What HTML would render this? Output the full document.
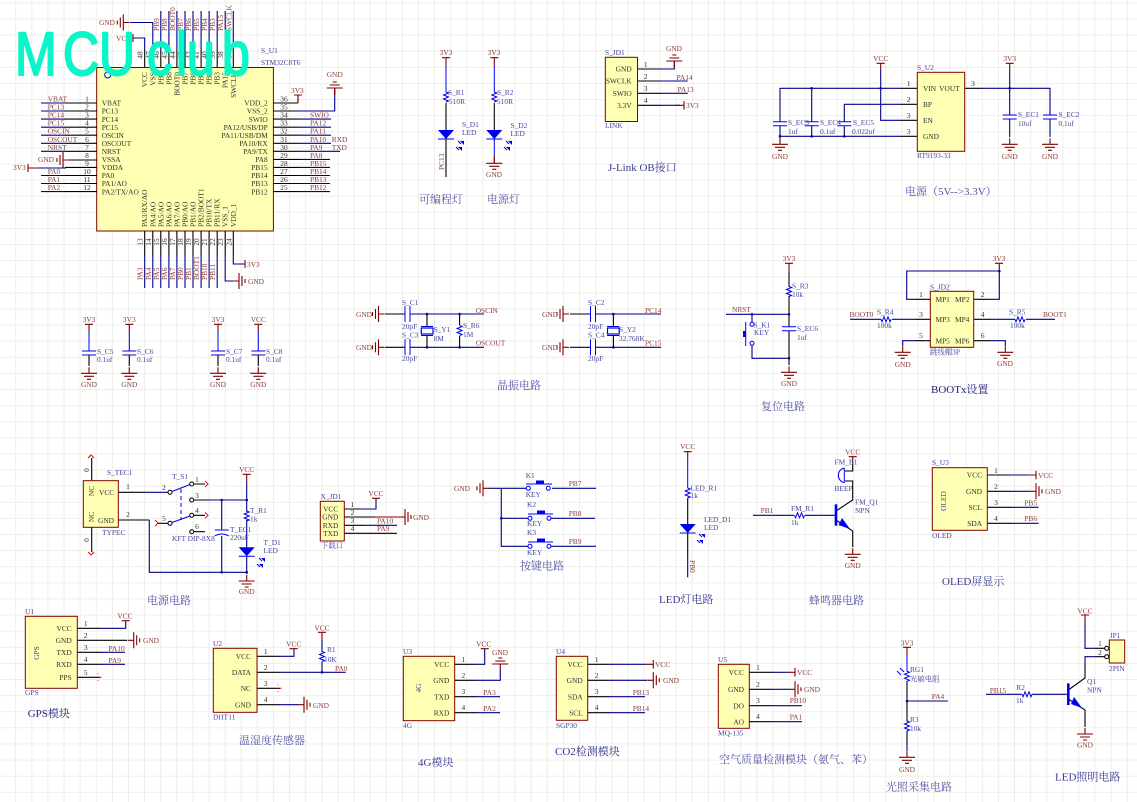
<!DOCTYPE html>
<html><head><meta charset="utf-8"><style>
html,body{margin:0;padding:0;background:#fff}
svg{display:block;filter:blur(.3px)}
text{font-family:"Liberation Serif","Noto Serif CJK SC",serif;font-size:7.4px}
.n{fill:#8c3c3c}.d{fill:#4646a0}.t{fill:#303030}
.h{font-size:11px;fill:#5656a8}.h2{font-size:11px;fill:#24247e}
.m{text-anchor:middle}.e{text-anchor:end}
.w{stroke:#00008b;stroke-width:1.1;fill:none}
.p{stroke:#000;stroke-width:1.1;fill:none}
.r{stroke:#800000;stroke-width:1.1;fill:none}
.b{stroke:#0000f0;stroke-width:1;fill:none}
.c{fill:#ffffb4;stroke:#800000;stroke-width:1}
.x{stroke:#f00;stroke-width:1;fill:none}
</style></head><body>
<svg width="1137" height="802" viewBox="0 0 1137 802" xmlns="http://www.w3.org/2000/svg">
<defs>
<pattern id="gr" x="15.2" y="18.5" width="16.11" height="16.11" patternUnits="userSpaceOnUse"><rect width="16.11" height="1" fill="#eeeee8"/><rect width="1" height="16.11" fill="#eeeee8"/></pattern>
<g id="g"><path class="r" d="M0-6V0M-8 0H8M-5 3H5M-2 6H2"/></g>
<g id="gl"><path class="r" d="M6 0H0M0-8V8M-3-5V5M-6-2V2"/></g>
<g id="gr2"><path class="r" d="M-6 0H0M0-8V8M3-5V5M6-2V2"/></g>
<g id="gu"><path class="r" d="M0 6V0M-8 0H8M-5-3H5M-2-6H2"/></g>
<g id="rv"><path class="b" d="M0 0l2.500 1-5 2 5 2-5 2 5 2-2.500 1" stroke-width="1.200"/></g>
<g id="rh"><path class="b" d="M0 0l1 2.500 2-5 2 5 2-5 2 5 1-2.500" stroke-width="1.200"/></g>
<g id="cap"><path class="b" d="M-7 0H7M-7 4H7" stroke-width="1.400"/></g>
<g id="led"><path fill="#0000f0" d="M-8 0H8L0 9Z"/><path class="b" d="M-8 9H8" stroke-width="1.400"/></g>
<g id="arr"><path fill="#0000f0" d="M2 0l4 0 0 4zM0 6l4 0 0 4z"/><path class="b" d="M0 0l3 3M-2 6l3 3"/></g>
<g id="dot"><circle r="1.300" fill="#00008b"/></g>
</defs>
<rect width="1137" height="802" fill="#fff"/>
<rect width="1137" height="802" fill="url(#gr)"/>

<!-- MCU -->
<rect class="c" x="96.700" y="67.500" width="176.700" height="163.500"/>
<circle cx="107.700" cy="75" r="3" fill="none" stroke="#0000f0"/>
<path class="p" d="M65 103H97M65 111H97M65 119.100H97M65 127.200H97M65 135.200H97M65 143.300H97M65 151.300H97M65 160H97M65 167.400H97M65 175.500H97M65 183.500H97M65 191.600H97"/>
<path class="w" d="M41 103H65M41 111H65M41 119.100H65M41 127.200H65M41 135.200H65M41 143.300H65M41 151.300H65M41 175.500H65M41 183.500H65M41 191.600H65"/>
<path class="p" d="M273 103H298M273 111H298M273 119.100H298M273 127.200H298M273 135.200H298M273 143.300H298M273 151.300H298M273 159.400H298M273 167.400H298M273 175.500H298M273 183.500H298M273 191.600H298"/>
<path class="w" d="M298 119.100H331M298 127.200H331M298 135.200H331M298 143.300H331M298 151.300H340M298 159.400H330M298 167.400H330M298 175.500H330M298 183.500H330M298 191.600H330M298 111H334.700V88M298 103V95"/>
<path class="r" d="M294 95H302M298 95V103M28 164V172M28 168H38M334.700 88V95"/>
<use href="#gu" x="334.700" y="88"/>
<use href="#gl" x="63" y="160"/>
<path class="w" d="M66 168H38"/>
<g class="t">
<text x="101.700" y="105.700" class="t">VBAT</text><text x="101.700" y="113.700" class="t">PC13</text><text x="101.700" y="121.800" class="t">PC14</text><text x="101.700" y="129.900" class="t">PC15</text><text x="101.700" y="137.900" class="t">OSCIN</text><text x="101.700" y="146" class="t">OSCOUT</text><text x="101.700" y="154" class="t">NRST</text><text x="101.700" y="162.100" class="t">VSSA</text><text x="101.700" y="170.100" class="t">VDDA</text><text x="101.700" y="178.200" class="t">PA0</text><text x="101.700" y="186.200" class="t">PA1/AO</text><text x="101.700" y="194.300" class="t">PA2/TX/AO</text>
<text x="267.700" y="105.700" class="t e">VDD_2</text><text x="267.700" y="113.700" class="t e">VSS_2</text><text x="267.700" y="121.800" class="t e">SWIO</text><text x="267.700" y="129.900" class="t e">PA12/USB/DP</text><text x="267.700" y="137.900" class="t e">PA11/USB/DM</text><text x="267.700" y="146" class="t e">PA10/RX</text><text x="267.700" y="154" class="t e">PA9/TX</text><text x="267.700" y="162.100" class="t e">PA8</text><text x="267.700" y="170.100" class="t e">PB15</text><text x="267.700" y="178.200" class="t e">PB14</text><text x="267.700" y="186.200" class="t e">PB13</text><text x="267.700" y="194.300" class="t e">PB12</text>
<text x="87" y="101.500" class="t m">1</text><text x="87" y="109.500" class="t m">2</text><text x="87" y="117.600" class="t m">3</text><text x="87" y="125.700" class="t m">4</text><text x="87" y="133.700" class="t m">5</text><text x="87" y="141.800" class="t m">6</text><text x="87" y="149.800" class="t m">7</text><text x="87" y="157.900" class="t m">8</text><text x="87" y="165.900" class="t m">9</text><text x="87" y="174" class="t m">10</text><text x="87" y="182" class="t m">11</text><text x="87" y="190.100" class="t m">12</text>
<text x="284" y="101.500" class="t m">36</text><text x="284" y="109.500" class="t m">35</text><text x="284" y="117.600" class="t m">34</text><text x="284" y="125.700" class="t m">33</text><text x="284" y="133.700" class="t m">32</text><text x="284" y="141.800" class="t m">31</text><text x="284" y="149.800" class="t m">30</text><text x="284" y="157.900" class="t m">29</text><text x="284" y="165.900" class="t m">28</text><text x="284" y="174" class="t m">27</text><text x="284" y="182" class="t m">26</text><text x="284" y="190.100" class="t m">25</text>
</g>
<g>
<text x="47.700" y="101.500" class="n">VBAT</text><text x="47.700" y="109.500" class="n">PC13</text><text x="47.700" y="117.600" class="n">PC14</text><text x="47.700" y="125.700" class="n">PC15</text><text x="47.700" y="133.700" class="n">OSCIN</text><text x="47.700" y="141.800" class="n">OSCOUT</text><text x="47.700" y="149.800" class="n">NRST</text><text x="47.700" y="174" class="n">PA0</text><text x="47.700" y="182" class="n">PA1</text><text x="47.700" y="190.100" class="n">PA2</text>
<text x="38" y="162" class="n">GND</text><text x="13" y="170" class="n">3V3</text>
<text x="310" y="117.600" class="n">SWIO</text><text x="310" y="125.700" class="n">PA12</text><text x="310" y="133.700" class="n">PA11</text><text x="310" y="141.800" class="n">PA10</text><text x="331.700" y="141.800" class="n">RXD</text><text x="310" y="149.800" class="n">PA9</text><text x="331.700" y="149.800" class="n">TXD</text><text x="310" y="157.900" class="n">PA8</text><text x="310" y="165.900" class="n">PB15</text><text x="310" y="174" class="n">PB14</text><text x="310" y="182" class="n">PB13</text><text x="310" y="190.100" class="n">PB12</text>
<text x="291" y="93" class="n">3V3</text><text x="334.700" y="77" class="n m">GND</text>
<text x="261" y="53" class="d">S_U1</text><text x="261" y="65" class="d">STM32C8T6</text>
</g>
<!-- top pins -->
<path class="p" d="M144.700 67V50M152.800 67V50M160.800 67V50M168.900 67V50M176.900 67V50M185 67V50M193 67V50M201.100 67V50M209.100 67V50M217.200 67V50M225.200 67V50M233.300 67V50"/>
<path class="w" d="M160.800 50V11M168.900 50V11M176.900 50V11M185 50V11M193 50V11M201.100 50V11M209.100 50V11M217.200 50V11M225.200 50V11M233.300 50V11M144.700 50V38H133M152.800 50V22.500H130"/>
<path class="r" d="M133 34V42"/>
<use href="#gl" x="123.300" y="22.500"/>
<text x="116" y="41" class="n">VCC</text><text x="99" y="25" class="n">GND</text>
<g class="n">
<text x="158.800" y="31" transform="rotate(-90 158.800 31)" class="n">PB9</text><text x="166.900" y="31" transform="rotate(-90 166.900 31)" class="n">PB8</text><text x="174.900" y="31" transform="rotate(-90 174.900 31)" class="n">BOOT0</text><text x="183" y="31" transform="rotate(-90 183 31)" class="n">PB7</text><text x="191" y="31" transform="rotate(-90 191 31)" class="n">PB6</text><text x="199.100" y="31" transform="rotate(-90 199.100 31)" class="n">PB5</text><text x="207.100" y="31" transform="rotate(-90 207.100 31)" class="n">PB4</text><text x="215.200" y="31" transform="rotate(-90 215.200 31)" class="n">PB3</text><text x="223.200" y="31" transform="rotate(-90 223.200 31)" class="n">PA15</text><text x="231.300" y="31" transform="rotate(-90 231.300 31)" class="n">SWCLK</text>
</g>
<g>
<text x="147.200" y="72" transform="rotate(-90 147.200 72)" class="t e">VCC</text><text x="155.300" y="72" transform="rotate(-90 155.300 72)" class="t e">VSS</text><text x="163.300" y="72" transform="rotate(-90 163.300 72)" class="t e">PB9</text><text x="171.400" y="72" transform="rotate(-90 171.400 72)" class="t e">PB8</text><text x="179.400" y="72" transform="rotate(-90 179.400 72)" class="t e">BOOT0</text><text x="187.500" y="72" transform="rotate(-90 187.500 72)" class="t e">PB7</text><text x="195.500" y="72" transform="rotate(-90 195.500 72)" class="t e">PB6</text><text x="203.600" y="72" transform="rotate(-90 203.600 72)" class="t e">PB5</text><text x="211.600" y="72" transform="rotate(-90 211.600 72)" class="t e">PB4</text><text x="219.700" y="72" transform="rotate(-90 219.700 72)" class="t e">PB3</text><text x="227.700" y="72" transform="rotate(-90 227.700 72)" class="t e">PA15</text><text x="235.800" y="72" transform="rotate(-90 235.800 72)" class="t e">SWCLK</text>
<text x="142.700" y="55" transform="rotate(-90 142.700 55)" class="t m">48</text><text x="150.800" y="55" transform="rotate(-90 150.800 55)" class="t m">47</text><text x="158.800" y="55" transform="rotate(-90 158.800 55)" class="t m">46</text><text x="166.900" y="55" transform="rotate(-90 166.900 55)" class="t m">45</text><text x="174.900" y="55" transform="rotate(-90 174.900 55)" class="t m">44</text><text x="183" y="55" transform="rotate(-90 183 55)" class="t m">43</text><text x="191" y="55" transform="rotate(-90 191 55)" class="t m">42</text><text x="199.100" y="55" transform="rotate(-90 199.100 55)" class="t m">41</text><text x="207.100" y="55" transform="rotate(-90 207.100 55)" class="t m">40</text><text x="215.200" y="55" transform="rotate(-90 215.200 55)" class="t m">39</text><text x="223.200" y="55" transform="rotate(-90 223.200 55)" class="t m">38</text><text x="231.300" y="55" transform="rotate(-90 231.300 55)" class="t m">37</text>
</g>
<!-- bottom pins -->
<path class="p" d="M144.700 231V255M152.800 231V255M160.800 231V255M168.900 231V255M176.900 231V255M185 231V255M193 231V255M201.100 231V255M209.100 231V255M217.200 231V255M225.200 231V255M233.300 231V255"/>
<path class="w" d="M144.700 255V288M152.800 255V288M160.800 255V288M168.900 255V288M176.900 255V288M185 255V288M193 255V288M201.100 255V288M209.100 255V288M217.200 255V288M225.200 255V281H236M233.300 255V264H245"/>
<path class="r" d="M245 260V268"/>
<use href="#gr2" x="239" y="281"/>
<text x="247" y="267" class="n">3V3</text><text x="248" y="284" class="n">GND</text>
<g>
<text x="147.200" y="227" transform="rotate(-90 147.200 227)" class="t">PA3/RX/AO</text><text x="155.300" y="227" transform="rotate(-90 155.300 227)" class="t">PA4/AO</text><text x="163.300" y="227" transform="rotate(-90 163.300 227)" class="t">PA5/AO</text><text x="171.400" y="227" transform="rotate(-90 171.400 227)" class="t">PA6/AO</text><text x="179.400" y="227" transform="rotate(-90 179.400 227)" class="t">PA7/AO</text><text x="187.500" y="227" transform="rotate(-90 187.500 227)" class="t">PB0/AO</text><text x="195.500" y="227" transform="rotate(-90 195.500 227)" class="t">PB1/AO</text><text x="203.600" y="227" transform="rotate(-90 203.600 227)" class="t">PB2/BOOT1</text><text x="211.600" y="227" transform="rotate(-90 211.600 227)" class="t">PB10/TX</text><text x="219.700" y="227" transform="rotate(-90 219.700 227)" class="t">PB11/RX</text><text x="227.700" y="227" transform="rotate(-90 227.700 227)" class="t">VSS_1</text><text x="235.800" y="227" transform="rotate(-90 235.800 227)" class="t">VDD_1</text>
<text x="142.700" y="242" transform="rotate(-90 142.700 242)" class="t m">13</text><text x="150.800" y="242" transform="rotate(-90 150.800 242)" class="t m">14</text><text x="158.800" y="242" transform="rotate(-90 158.800 242)" class="t m">15</text><text x="166.900" y="242" transform="rotate(-90 166.900 242)" class="t m">16</text><text x="174.900" y="242" transform="rotate(-90 174.900 242)" class="t m">17</text><text x="183" y="242" transform="rotate(-90 183 242)" class="t m">18</text><text x="191" y="242" transform="rotate(-90 191 242)" class="t m">19</text><text x="199.100" y="242" transform="rotate(-90 199.100 242)" class="t m">20</text><text x="207.100" y="242" transform="rotate(-90 207.100 242)" class="t m">21</text><text x="215.200" y="242" transform="rotate(-90 215.200 242)" class="t m">22</text><text x="223.200" y="242" transform="rotate(-90 223.200 242)" class="t m">23</text><text x="231.300" y="242" transform="rotate(-90 231.300 242)" class="t m">24</text>
<text x="142.700" y="280" transform="rotate(-90 142.700 280)" class="n">PA3</text><text x="150.800" y="280" transform="rotate(-90 150.800 280)" class="n">PA4</text><text x="158.800" y="280" transform="rotate(-90 158.800 280)" class="n">PA5</text><text x="166.900" y="280" transform="rotate(-90 166.900 280)" class="n">PA6</text><text x="174.900" y="280" transform="rotate(-90 174.900 280)" class="n">PA7</text><text x="183" y="280" transform="rotate(-90 183 280)" class="n">PB0</text><text x="191" y="280" transform="rotate(-90 191 280)" class="n">PB1</text><text x="199.100" y="280" transform="rotate(-90 199.100 280)" class="n">BOOT1</text><text x="207.100" y="280" transform="rotate(-90 207.100 280)" class="n">PB10</text><text x="215.200" y="280" transform="rotate(-90 215.200 280)" class="n">PB11</text>
</g>

<!-- LEDs -->
<path class="r" d="M442 57.700H450M446 57.700V66M490.300 57.700H498.300M494.300 57.700V66"/>
<path class="b" d="M446 66V92M494.300 66V92"/>
<path class="p" d="M446 103V130M446 139V177M494.300 103V130"/>
<path class="b" d="M494.300 139V155"/><path class="r" d="M494.300 155V163"/>
<use href="#rv" x="446" y="92"/><use href="#rv" x="494.300" y="92"/>
<use href="#led" x="446" y="130"/><use href="#led" x="494.300" y="130"/>
<use href="#arr" x="458" y="141"/><use href="#arr" x="506" y="141"/>
<use href="#g" x="494.300" y="163.300"/>
<text x="446" y="55" class="n m">3V3</text><text x="494" y="55" class="n m">3V3</text><text x="494" y="177" class="n m">GND</text>
<text x="444" y="170" transform="rotate(-90 444 170)" class="n">PC13</text>
<text x="448" y="95" class="d">S_R1</text><text x="449" y="104" class="d">510R</text>
<text x="497" y="95" class="d">S_R2</text><text x="497" y="104" class="d">510R</text>
<text x="462" y="127" class="d">S_D1</text><text x="462" y="135" class="d">LED</text>
<text x="510.500" y="128" class="d">S_D2</text><text x="510.500" y="136" class="d">LED</text>
<text x="419" y="203" class="h">可编程灯</text><text x="487" y="203" class="h">电源灯</text>

<!-- J-Link -->
<path class="p" d="M637.500 69H660M637.500 81H660M637.500 93.300H660M637.500 105.300H660"/>
<path class="w" d="M660 69H674.300V61M660 81H687.700M660 93.300H687.700M660 105.300H680"/>
<path class="r" d="M676 105.300H684M684 101V109.600"/>
<use href="#gu" x="674.300" y="61"/>
<rect class="c" x="605.300" y="57.300" width="32.200" height="64.200"/>
<text x="605" y="55" class="d">S_JD1</text><text x="605" y="128" class="d">LINK</text>
<text x="631.700" y="71.700" class="t e">GND</text><text x="631.700" y="83.700" class="t e">SWCLK</text><text x="631.700" y="96" class="t e">SWIO</text><text x="631.700" y="108" class="t e">3.3V</text>
<text x="645.700" y="67" class="t m">1</text><text x="645.700" y="79" class="t m">2</text><text x="645.700" y="91" class="t m">3</text><text x="645.700" y="103" class="t m">4</text>
<text x="674" y="51" class="n m">GND</text><text x="676.500" y="80" class="n">PA14</text><text x="677.500" y="92" class="n">PA13</text><text x="686" y="108" class="n">3V3</text>
<text x="608" y="171" class="h2" style="fill:#3a3a98">J-Link OB接口</text>

<!-- Power -->
<path class="w" d="M900 88.300H780V121.700M780 125.700V144M811.700 88.300V121.700M811.700 125.700V136.300M880.700 70V120.300H900M844.300 121.700V104.300H900M844.300 125.700V136.300M780 136.300H900"/>
<path class="p" d="M900 88.300H917M900 104.300H917M900 120.300H917M900 136.300H917M964.700 88.300H982"/>
<path class="w" d="M982 88.300H1050V115M1009.700 70V115M1009.700 119V137M1050 119V137"/>
<path class="r" d="M876.700 63.300H884.700M880.700 63.300V70M1005.700 63.300H1013.700M1009.700 63.300V70"/>
<use href="#dot" x="811.700" y="88.300"/><use href="#dot" x="880.700" y="88.300"/><use href="#dot" x="780" y="136.300"/><use href="#dot" x="811.700" y="136.300"/><use href="#dot" x="844.300" y="136.300"/><use href="#dot" x="1009.700" y="88.300"/>
<use href="#cap" x="780" y="121.700"/><use href="#cap" x="811.700" y="121.700"/><use href="#cap" x="844.300" y="121.700"/><use href="#cap" x="1009.700" y="115"/><use href="#cap" x="1050" y="115"/>
<use href="#g" x="780" y="144.300"/><use href="#g" x="1009.700" y="144.300"/><use href="#g" x="1050" y="144.300"/>
<rect class="c" x="917.300" y="72.300" width="47.400" height="79"/>
<text x="917" y="70" class="d">S_U2</text><text x="917" y="158" class="d">RT9193-33</text>
<text x="923" y="91" class="t">VIN</text><text x="923" y="107" class="t">BP</text><text x="923" y="123" class="t">EN</text><text x="923" y="139" class="t">GND</text><text x="959.700" y="91" class="t e">VOUT</text>
<text x="908.700" y="86" class="t m">1</text><text x="908.700" y="102" class="t m">2</text><text x="908.700" y="118" class="t m">3</text><text x="908.700" y="134" class="t m">3</text><text x="973" y="86" class="t m">3</text>
<text x="880.700" y="61" class="n m">VCC</text><text x="1009.700" y="61" class="n m">3V3</text><text x="780" y="159" class="n m">GND</text><text x="1009.700" y="159" class="n m">GND</text><text x="1050" y="159" class="n m">GND</text>
<text x="788" y="125" class="d">S_EC3</text><text x="788" y="134" class="d">1uf</text><text x="820" y="125" class="d">S_EC4</text><text x="820" y="134" class="d">0.1uf</text><text x="853" y="125" class="d">S_EC5</text><text x="852" y="134" class="d">0.022uf</text>
<text x="1018" y="117" class="d">S_EC1</text><text x="1018" y="126" class="d">10uf</text><text x="1058.500" y="117" class="d">S_EC2</text><text x="1058.500" y="126" class="d">0.1uf</text>
<text x="905" y="195" class="h">电源（5V--&gt;3.3V）</text>

<!-- decoupling caps -->
<path class="r" d="M85 324.300H93M89 324.300V332M125.300 324.300H133.300M129.300 324.300V332M214 324.300H222M218 324.300V332M254.300 324.300H262.300M258.300 324.300V332"/>
<path class="b" d="M89 332V351M129.300 332V351M218 332V351M258.300 332V351"/>
<path class="p" d="M89 355V366M129.300 355V366M218 355V366M258.300 355V366"/>
<use href="#cap" x="89" y="351"/><use href="#cap" x="129.300" y="351"/><use href="#cap" x="218" y="351"/><use href="#cap" x="258.300" y="351"/>
<use href="#g" x="89" y="373.300"/><use href="#g" x="129.300" y="373.300"/><use href="#g" x="218" y="373.300"/><use href="#g" x="258.300" y="373.300"/>
<text x="89" y="322" class="n m">3V3</text><text x="129.300" y="322" class="n m">3V3</text><text x="218" y="322" class="n m">3V3</text><text x="258.300" y="322" class="n m">VCC</text>
<text x="89" y="387" class="n m">GND</text><text x="129.300" y="387" class="n m">GND</text><text x="218" y="387" class="n m">GND</text><text x="258.300" y="387" class="n m">GND</text>
<text x="97" y="354" class="d">S_C5</text><text x="97" y="362" class="d">0.1uf</text><text x="137" y="354" class="d">S_C6</text><text x="137" y="362" class="d">0.1uf</text><text x="226" y="354" class="d">S_C7</text><text x="226" y="362" class="d">0.1uf</text><text x="266" y="354" class="d">S_C8</text><text x="266" y="362" class="d">0.1uf</text>

<!-- crystal 1 -->
<use href="#gl" x="378.500" y="314"/><use href="#gl" x="378.500" y="347.300"/>
<path class="p" d="M385 314H405M385 347.300H405"/>
<path class="b" d="M405 306V322M410 306V322M405 339.300V355.300M410 339.300V355.300" stroke-width="1.400"/>
<path class="w" d="M410 314H484M410 347.300H484"/>
<path class="p" d="M427 314V326.500M427 335.500V347.300M459.600 314V325M459.600 336V347.300"/>
<path class="b" d="M421 326.500H433M421 335.500H433" stroke-width="1.200"/><rect x="421.300" y="328" width="11.700" height="6" fill="none" stroke="#0000f0" stroke-width="1.200"/>
<use href="#rv" x="459.600" y="325.500"/>
<use href="#dot" x="427" y="314"/><use href="#dot" x="459.600" y="314"/><use href="#dot" x="427" y="347.300"/><use href="#dot" x="459.600" y="347.300"/>
<text x="356" y="317" class="n">GND</text><text x="356" y="350" class="n">GND</text>
<text x="402" y="305" class="d">S_C1</text><text x="402" y="329" class="d">20pF</text><text x="402" y="337.300" class="d">S_C3</text><text x="402" y="361" class="d">20pF</text>
<text x="433.600" y="332" class="d">S_Y1</text><text x="433.600" y="341" class="d">8M</text><text x="463" y="328" class="d">S_R6</text><text x="463" y="337" class="d">1M</text>
<text x="475.700" y="313" class="n">OSCIN</text><text x="475.700" y="345.700" class="n">OSCOUT</text>

<!-- crystal 2 -->
<use href="#gl" x="563" y="314"/><use href="#gl" x="563" y="347.300"/>
<path class="p" d="M570 314H590.500M570 347.300H590.500"/>
<path class="b" d="M590.500 306V322M595.500 306V322M590.500 339.300V355.300M595.500 339.300V355.300" stroke-width="1.400"/>
<path class="w" d="M595.500 314H661M595.500 347.300H661"/>
<path class="p" d="M613.400 314V326.500M613.400 335.500V347.300"/>
<path class="b" d="M607 326.500H619.500M607 335.500H619.500" stroke-width="1.200"/><rect x="607.500" y="328" width="11.700" height="6" fill="none" stroke="#0000f0" stroke-width="1.200"/>
<use href="#dot" x="613.400" y="314"/><use href="#dot" x="613.400" y="347.300"/>
<text x="542" y="317" class="n">GND</text><text x="542" y="350" class="n">GND</text>
<text x="588" y="305" class="d">S_C2</text><text x="588" y="329" class="d">20pF</text><text x="588" y="337.300" class="d">S_C4</text><text x="588" y="361" class="d">20pF</text>
<text x="619" y="332" class="d">S_Y2</text><text x="619" y="341" class="d">32.768K</text>
<text x="645" y="313" class="n">PC14</text><text x="645" y="345.700" class="n">PC15</text>
<text x="497" y="389" class="h">晶振电路</text>

<!-- Reset -->
<path class="r" d="M785 263.300H793M789 263.300V272"/>
<path class="p" d="M789 272V286.700M789 296V326.700M789 331V365"/>
<use href="#rv" x="789" y="286.500"/><use href="#cap" x="789" y="326.700"/><use href="#g" x="789" y="372.300"/>
<path class="w" d="M726 314.300H789M752 314.300V322.300M752 345.300V358.300H789"/>
<circle cx="752" cy="324.300" r="2" fill="#fff" stroke="#0000f0"/><circle cx="752" cy="343.300" r="2" fill="#fff" stroke="#0000f0"/>
<path class="b" d="M745.700 322V346" stroke-width="1.600"/><rect x="743" y="331" width="2.500" height="6" fill="#0000f0"/>
<use href="#dot" x="752" y="314.300"/><use href="#dot" x="789" y="314.300"/><use href="#dot" x="789" y="358.300"/>
<text x="789" y="261" class="n m">3V3</text><text x="789" y="386" class="n m">GND</text><text x="732" y="312" class="n">NRST</text>
<text x="792" y="288.700" class="d">S_R3</text><text x="792" y="297" class="d">10k</text><text x="797" y="331" class="d">S_EC6</text><text x="797" y="340" class="d">1uf</text>
<text x="753.500" y="327.300" class="d">S_K1</text><text x="754" y="335" class="d">KEY</text>
<text x="761" y="410" class="h">复位电路</text>

<!-- BOOT -->
<path class="p" d="M930 299.300H915M973.700 299.300H990M930 319.300H915M973.700 319.300H990M930 340.700H915M973.700 340.700H990"/>
<path class="w" d="M915 299.300H906.700V271H999.300M990 299.300H999.300V270M915 319.300H892M881 319.300H850M990 319.300H1015M1026 319.300H1055M915 340.700H902.700V346M990 340.700H1005.300V346"/>
<path class="r" d="M995 263.300H1003M999.300 263.300V271"/>
<use href="#rh" x="881" y="319.300"/><use href="#rh" x="1015" y="319.300"/>
<use href="#dot" x="999.300" y="271"/>
<use href="#g" x="902.700" y="352.300"/><use href="#g" x="1005.300" y="352.300"/>
<rect class="c" x="930.300" y="291.300" width="43.400" height="56"/>
<text x="935.500" y="302" class="t">MP1</text><text x="955" y="302" class="t">MP2</text><text x="935.500" y="322" class="t">MP3</text><text x="955" y="322" class="t">MP4</text><text x="935.500" y="343.400" class="t">MP5</text><text x="955" y="343.400" class="t">MP6</text>
<text x="921" y="297" class="t m">1</text><text x="982.700" y="297" class="t m">2</text><text x="921" y="317" class="t m">3</text><text x="982.700" y="317" class="t m">4</text><text x="921" y="338" class="t m">5</text><text x="982.700" y="338" class="t m">6</text>
<text x="930" y="289.700" class="d">S_JD2</text><text x="930" y="354.600" class="d">跳线帽3P</text>
<text x="999" y="261" class="n m">3V3</text><text x="902.700" y="367" class="n m">GND</text><text x="1005" y="366" class="n m">GND</text>
<text x="849.500" y="317" class="n">BOOT0</text><text x="1043" y="317" class="n">BOOT1</text>
<text x="877" y="314.700" class="d">S_R4</text><text x="877" y="328" class="d">100k</text><text x="1009" y="314.700" class="d">S_R5</text><text x="1010" y="328" class="d">100k</text>
<text x="931" y="393" class="h2">BOOTx设置</text>

<!-- USB power -->
<path class="p" d="M91.700 480V458M91.700 527V552M118 492.300H145M118 520H149.300M194 500H210M194 484H205M194 515.300H205M194 531.700H205M158 523.300H168"/>
<path class="w" d="M145 492.300H168M149.300 520V572.300H246.700M210 500H246.700V511.700M246.700 520V547.300M221.700 500V530M221.700 536V572.300M246.700 556V574"/>
<path class="r" d="M242.700 474.300H250.700M246.700 474.300V482"/>
<path class="w" d="M246.700 482V500"/>
<path class="x" d="M88 458l3-3 3 3M88 552l3 3 3-3M205 481l3 3-3 3M205 512.300l3 3-3 3M155 520l3 3-3 3"/>
<circle cx="170" cy="492.300" r="2" fill="#fff" stroke="#000"/><circle cx="170" cy="523.300" r="2" fill="#fff" stroke="#000"/><circle cx="191.700" cy="484" r="2" fill="#fff" stroke="#000"/><circle cx="191.700" cy="500" r="2" fill="#fff" stroke="#000"/><circle cx="191.700" cy="515.300" r="2" fill="#fff" stroke="#000"/><circle cx="191.700" cy="531.700" r="2" fill="#fff" stroke="#000"/>
<path class="b" d="M172 491.500L190 484.500M172 522.500L190 516"/><path class="b" d="M181 489V520" stroke-dasharray="4 3"/>
<path class="b" d="M214.700 530H228.700" stroke-width="1.400"/><path class="b" d="M214.700 536Q221.700 532 228.700 536" stroke-width="1.400"/>
<use href="#rv" x="246.700" y="511"/><use href="#led" x="246.700" y="547.300"/><use href="#arr" x="259" y="558"/><use href="#g" x="246.700" y="581"/>
<use href="#dot" x="221.700" y="500"/><use href="#dot" x="246.700" y="500"/><use href="#dot" x="221.700" y="572.300"/><use href="#dot" x="246.700" y="572.300"/>
<rect class="c" x="83.300" y="480.700" width="35" height="46.600"/>
<text x="99" y="495" class="t">VCC</text><text x="98" y="523" class="t">GND</text>
<text x="94" y="491" transform="rotate(-90 94 491)" class="t m">NC</text><text x="94" y="517" transform="rotate(-90 94 517)" class="t m">NC</text>
<text x="89" y="470" transform="rotate(-90 89 470)" class="t m">0</text><text x="89" y="540" transform="rotate(-90 89 540)" class="t m">0</text>
<text x="107" y="475" class="d">S_TEC1</text><text x="102" y="535" class="d">TYPEC</text>
<text x="128" y="489" class="t m">1</text><text x="128" y="517" class="t m">2</text><text x="164" y="490" class="t m">2</text><text x="164" y="521" class="t m">5</text><text x="197" y="482" class="t m">1</text><text x="197" y="498" class="t m">3</text><text x="197" y="513" class="t m">4</text><text x="197" y="529" class="t m">6</text>
<text x="172" y="479" class="d">T_S1</text><text x="172" y="541" class="d">KFT DIP-8X8</text>
<text x="230" y="532" class="d">T_EC1</text><text x="230" y="540" class="d">220uF</text><text x="250" y="513" class="d">T_R1</text><text x="250" y="521.500" class="d">1k</text><text x="263.500" y="545" class="d">T_D1</text><text x="263.500" y="553" class="d">LED</text>
<text x="246.700" y="472" class="n m">VCC</text><text x="246.700" y="594" class="n m">GND</text>
<text x="147" y="604" class="h">电源电路</text>

<!-- X_JD1 -->
<path class="p" d="M344 509H360M344 517H375M344 525.300H365M344 533.300H397"/>
<path class="w" d="M360 509H376V499M365 525.300H397"/>
<path class="r" d="M372 498.300H380M375 517H405"/>
<use href="#gr2" x="405" y="517"/>
<rect class="c" x="320.300" y="501.300" width="24" height="39.700"/>
<text x="320.500" y="499" class="d">X_JD1</text><text x="321" y="548" class="d">下载口</text>
<text x="338.300" y="511.700" class="t e">VCC</text><text x="338.300" y="519.700" class="t e">GND</text><text x="338.300" y="528" class="t e">RXD</text><text x="338.300" y="536" class="t e">TXD</text>
<text x="352.500" y="507" class="t m">1</text><text x="352.500" y="515" class="t m">2</text><text x="352.500" y="523" class="t m">3</text><text x="352.500" y="531" class="t m">4</text>
<text x="376" y="496" class="n m">VCC</text><text x="377" y="523.700" class="n">PA10</text><text x="377" y="531" class="n">PA9</text><text x="413" y="520" class="n">GND</text>

<!-- Keys -->
<use href="#gl" x="483" y="488.300"/>
<path class="w" d="M489 488.300H526M501.300 488.300V546.300H528M501.300 518.300H528M552 488.300H596M551 518.300H595M551 546.300H596"/>
<circle cx="528.300" cy="488.300" r="2" fill="#fff" stroke="#0000f0"/><circle cx="548.300" cy="488.300" r="2" fill="#fff" stroke="#0000f0"/><circle cx="530" cy="518.300" r="2" fill="#fff" stroke="#0000f0"/><circle cx="549" cy="518.300" r="2" fill="#fff" stroke="#0000f0"/><circle cx="530" cy="546.300" r="2" fill="#fff" stroke="#0000f0"/><circle cx="549" cy="546.300" r="2" fill="#fff" stroke="#0000f0"/>
<path class="b" d="M526 484H552M528 514H553M528 542H553" stroke-width="1.500"/>
<path fill="#0000f0" d="M536 480.500h8v3.500h-8zM537 510.500h8v3.500h-8zM537 538.500h8v3.500h-8z"/>
<use href="#dot" x="501.300" y="518.300"/>
<text x="454" y="491" class="n">GND</text>
<text x="525.700" y="478" class="d">K1</text><text x="525.700" y="497" class="d">KEY</text><text x="527" y="507" class="d">K2</text><text x="527" y="526" class="d">KEY</text><text x="527" y="535" class="d">K3</text><text x="527" y="555" class="d">KEY</text>
<text x="568.700" y="486" class="n">PB7</text><text x="568.700" y="516" class="n">PB8</text><text x="568.700" y="544" class="n">PB9</text>
<text x="520" y="569.500" class="h">按键电路</text>

<!-- LED -->
<path class="r" d="M683.700 451.700H691.700M687.700 451.700V460"/>
<path class="b" d="M687.700 460V488"/><path class="p" d="M687.700 498V524M687.700 533V555"/><path class="w" d="M687.700 555V577.300"/>
<use href="#rv" x="687.700" y="488"/><use href="#led" x="687.700" y="524"/><use href="#arr" x="699" y="534"/>
<text x="687.700" y="449" class="n m">VCC</text>
<text x="690" y="560" transform="rotate(90 690 560)" class="n">PB0</text>
<text x="690.500" y="490.700" class="d">LED_R1</text><text x="690.500" y="498" class="d">1k</text><text x="704" y="522" class="d">LED_D1</text><text x="704" y="530" class="d">LED</text>
<text x="659" y="603" class="h2" style="fill:#3a3a98">LED灯电路</text>

<!-- Buzzer -->
<path class="r" d="M848.700 456.700H856.700M852.700 456.700V464"/>
<path class="p" d="M852.700 464V471H845M845 481H852.700V500L836 511M836 520L852.700 531V547"/>
<path class="b" d="M844.300 468V482.700" stroke-width="1.600"/><path class="b" d="M844.300 468A7.500 7.500 0 0 0 844.300 482.700" stroke-width="1.200"/>
<path class="w" d="M753 515.300H794M805 515.300H836"/>
<use href="#rh" x="794.500" y="515.300"/>
<rect x="834.700" y="504.300" width="2.600" height="21.400" fill="#0000f0"/>
<path fill="#0000f0" d="M850 529L842 518L838.500 525Z"/>
<use href="#g" x="852.700" y="554.300"/>
<text x="852.700" y="454.600" class="n m">VCC</text><text x="852.700" y="568" class="n m">GND</text><text x="760.600" y="513" class="n">PB1</text>
<text x="791" y="511" class="d">FM_R1</text><text x="791" y="525" class="d">1k</text><text x="855" y="504.700" class="d">FM_Q1</text><text x="855" y="513" class="d">NPN</text><text x="834.500" y="464.600" class="d">FM_B1</text><text x="834.500" y="491" class="d">BEEP</text>
<text x="809" y="604" class="h">蜂鸣器电路</text>

<!-- OLED -->
<path class="p" d="M987 475H1010M987 491.300H1010M987 507.300H1012M987 523.300H1012"/>
<path class="w" d="M1010 475H1028M1010 491.300H1030M1012 507.300H1038.600M1012 523.300H1038.600"/>
<path class="r" d="M1028 475H1036M1036 470.700V479.300"/>
<use href="#gr2" x="1036" y="491.300"/>
<rect class="c" x="932.300" y="467.700" width="55" height="62.600"/>
<text x="932" y="465" class="d">S_U3</text><text x="932" y="538" class="d">OLED</text>
<text x="946" y="501" transform="rotate(-90 946 501)" class="m" style="fill:#3c3c98">OLED</text>
<text x="982" y="477.700" class="t e">VCC</text><text x="982" y="494" class="t e">GND</text><text x="982" y="510" class="t e">SCL</text><text x="982" y="526" class="t e">SDA</text>
<text x="996" y="473" class="t m">1</text><text x="996" y="489" class="t m">2</text><text x="996" y="505" class="t m">3</text><text x="996" y="521" class="t m">4</text>
<text x="1038" y="478" class="n">VCC</text><text x="1045" y="494" class="n">GND</text><text x="1024.300" y="505.300" class="n">PB5</text><text x="1024.300" y="521" class="n">PB6</text>
<text x="942" y="585" class="h2" style="fill:#3a3a98">OLED屏显示</text>

<!-- GPS -->
<path class="p" d="M77 628.300H100M77 640.300H127M77 652.300H100M77 664.300H100M77 677.300H100"/>
<path class="w" d="M100 628.300H125.700V621M100 652.300H125M100 664.300H125"/>
<path class="r" d="M121.700 620.700H129.700"/>
<use href="#gr2" x="133.700" y="640.300"/>
<path class="x" d="M100 677.300h1.500M98 673.500v0.800M98 680v0.800"/>
<rect class="c" x="25.300" y="616.300" width="52" height="72"/>
<text x="25" y="614" class="d">U1</text><text x="25" y="695" class="d">GPS</text>
<text x="39" y="653" transform="rotate(-90 39 653)" class="m" style="fill:#3c3c98">GPS</text>
<text x="71.700" y="631" class="t e">VCC</text><text x="71.700" y="643" class="t e">GND</text><text x="71.700" y="655" class="t e">TXD</text><text x="71.700" y="667" class="t e">RXD</text><text x="71.700" y="680" class="t e">PPS</text>
<text x="85.700" y="626" class="t m">1</text><text x="85.700" y="638" class="t m">2</text><text x="85.700" y="650" class="t m">3</text><text x="85.700" y="662" class="t m">4</text><text x="85.700" y="675" class="t m">5</text>
<text x="125" y="618.700" class="n m">VCC</text><text x="143" y="643" class="n">GND</text><text x="108.500" y="651" class="n">PA10</text><text x="108.500" y="663" class="n">PA9</text>
<text x="27.700" y="717" class="h2">GPS模块</text>

<!-- DHT11 -->
<path class="p" d="M257 656.300H280M257 672.300H280M257 688.300H280M257 704.700H280"/>
<path class="w" d="M280 656.300H294V649M280 672.300H345.700M280 704.700H298M322 640V651.700M322 662V672.300"/>
<path class="r" d="M289.700 648.700H297.700M318 632.300H326M322 632.300V640"/>
<use href="#rv" x="322" y="651.500"/><use href="#dot" x="322" y="672.300"/>
<use href="#gr2" x="304" y="704.700"/>
<path class="x" d="M280 688.300h1.500M278 684.500v0.800M278 691v0.800"/>
<rect class="c" x="213.300" y="648.300" width="43.700" height="64"/>
<text x="213" y="646" class="d">U2</text><text x="213" y="719.700" class="d">DHT11</text>
<text x="251" y="659" class="t e">VCC</text><text x="251" y="675" class="t e">DATA</text><text x="251" y="691" class="t e">NC</text><text x="251" y="707.400" class="t e">GND</text>
<text x="265.700" y="654" class="t m">1</text><text x="265.700" y="670" class="t m">2</text><text x="265.700" y="686" class="t m">3</text><text x="265.700" y="702" class="t m">4</text>
<text x="293.700" y="646.700" class="n m">VCC</text><text x="322" y="630.700" class="n m">VCC</text><text x="335" y="671" class="n">PA0</text><text x="313" y="708" class="n">GND</text>
<text x="327" y="652" class="d">R1</text><text x="324" y="662" class="d">10K</text>
<text x="239" y="744" class="h">温湿度传感器</text>

<!-- 4G -->
<path class="p" d="M454 664.300H475M454 680.300H475M454 696.700H475M454 712.700H475"/>
<path class="w" d="M475 664.300H484.700V649M475 680.300H500.300V670M475 696.700H500M475 712.700H500"/>
<path class="r" d="M480.700 648.700H488.700"/>
<use href="#gu" x="500.300" y="664"/>
<rect class="c" x="403.300" y="656.300" width="51.400" height="64.400"/>
<text x="403" y="654" class="d">U3</text><text x="403" y="728" class="d">4G</text>
<text x="421" y="688" transform="rotate(-90 421 688)" class="m" style="fill:#3c3c98">4G</text>
<text x="449.300" y="667" class="t e">VCC</text><text x="449.300" y="683" class="t e">GND</text><text x="449.300" y="699.400" class="t e">TXD</text><text x="449.300" y="715.400" class="t e">RXD</text>
<text x="463.300" y="662" class="t m">1</text><text x="463.300" y="678" class="t m">2</text><text x="463.300" y="694" class="t m">3</text><text x="463.300" y="710" class="t m">4</text>
<text x="483.700" y="646.700" class="n m">VCC</text><text x="500" y="655" class="n m">GND</text><text x="483.300" y="695" class="n">PA3</text><text x="483.300" y="711" class="n">PA2</text>
<text x="418" y="766" class="h2" style="fill:#3a3a98">4G模块</text>

<!-- SGP30 -->
<path class="p" d="M587 664.300H610M587 680.300H610M587 696.700H610M587 712.700H610"/>
<path class="w" d="M610 664.300H645M610 680.300H647M610 696.700H645M610 712.700H645"/>
<path class="r" d="M645 664.300H653.300M653.300 660V668.600"/>
<use href="#gr2" x="653.300" y="680.300"/>
<rect class="c" x="556.300" y="656.300" width="31.400" height="64"/>
<text x="556" y="654" class="d">U4</text><text x="556" y="728" class="d">SGP30</text>
<text x="582.700" y="667" class="t e">VCC</text><text x="582.700" y="683" class="t e">GND</text><text x="582.700" y="699.400" class="t e">SDA</text><text x="582.700" y="715.400" class="t e">SCL</text>
<text x="596.700" y="662" class="t m">1</text><text x="596.700" y="678" class="t m">2</text><text x="596.700" y="694" class="t m">3</text><text x="596.700" y="710" class="t m">4</text>
<text x="655" y="667" class="n">VCC</text><text x="663" y="683" class="n">GND</text><text x="632.700" y="695" class="n">PB13</text><text x="632.700" y="711" class="n">PB14</text>
<text x="555" y="755" class="h2" style="fill:#2e2e90">CO2检测模块</text>

<!-- MQ -->
<path class="p" d="M749 672.300H772M749 689.300H772M749 705.700H772M749 721.700H772"/>
<path class="w" d="M772 672.300H787M772 689.300H789M772 705.700H802M772 721.700H802"/>
<path class="r" d="M787 672.300H795M795 668V676.600"/>
<use href="#gr2" x="795" y="689.300"/>
<rect class="c" x="718.300" y="664.300" width="31" height="64"/>
<text x="718" y="662" class="d">U5</text><text x="718" y="735.700" class="d">MQ-135</text>
<text x="744" y="675" class="t e">VCC</text><text x="744" y="692" class="t e">GND</text><text x="744" y="708.400" class="t e">DO</text><text x="744" y="724.400" class="t e">AO</text>
<text x="758" y="670" class="t m">1</text><text x="758" y="687" class="t m">2</text><text x="758" y="703" class="t m">3</text><text x="758" y="719" class="t m">4</text>
<text x="797" y="675" class="n">VCC</text><text x="804" y="692" class="n">GND</text><text x="789.700" y="703" class="n">PB10</text><text x="789.700" y="719.500" class="n">PA1</text>
<text x="719" y="763" class="h">空气质量检测模块（氨气、苯）</text>

<!-- Light -->
<path class="r" d="M903 647.300H911M907 647.300V655"/>
<path class="b" d="M907 655V671.500"/><path class="p" d="M907 681V721.500M907 731V745"/>
<path class="w" d="M907 701H948M907 745V751"/>
<use href="#rv" x="907" y="671.200"/><use href="#rv" x="907" y="721"/><use href="#dot" x="907" y="701"/>
<use href="#g" x="907" y="757.300"/>
<path class="b" d="M900 668l4 4M897 671l4 4"/>
<text x="907" y="645.300" class="n m">3V3</text><text x="907" y="772" class="n m">GND</text><text x="931.700" y="699" class="n">PA4</text>
<text x="910" y="672" class="d">RG1</text><text x="910" y="681.700" class="d">光敏电阻</text><text x="910" y="722" class="d">R3</text><text x="910" y="731" class="d">10k</text>
<text x="886" y="790.500" class="h">光照采集电路</text>

<!-- LED light -->
<path class="r" d="M1081 615H1089M1085 615V622"/>
<path class="w" d="M1085 622V648.300H1095M1085 664V656.700H1095"/>
<path class="p" d="M1095 648.300H1104.700M1095 656.700H1104.700M1085 664V678L1068.300 690M1068.300 699L1085 710V727"/>
<circle cx="1106.700" cy="648.300" r="2" fill="#fff" stroke="#000"/><circle cx="1106.700" cy="656.700" r="2" fill="#fff" stroke="#000"/>
<rect class="c" x="1109.300" y="640" width="15.400" height="23"/>
<path class="w" d="M986 694.300H1021.700M1032 694.300H1068"/>
<use href="#rh" x="1022" y="694.300"/>
<rect x="1067" y="683.300" width="2.600" height="21.700" fill="#0000f0"/>
<path fill="#0000f0" d="M1082 708L1074 697L1071 704Z"/>
<use href="#g" x="1085" y="734"/>
<text x="1085" y="613.700" class="n m">VCC</text><text x="1085" y="747.300" class="n m">GND</text><text x="989.700" y="693" class="n">PB15</text>
<text x="1109.700" y="638" class="d">JP1</text><text x="1109" y="671" class="d">2PIN</text><text x="1087" y="684" class="d">Q1</text><text x="1087" y="692.700" class="d">NPN</text><text x="1016.300" y="690" class="d">R2</text><text x="1016" y="703" class="d">1k</text>
<text x="1100" y="646" class="t m">1</text><text x="1100" y="655" class="t m">2</text>
<text x="1055" y="780.500" class="h2" style="fill:#3a3a98">LED照明电路</text>

<!-- watermark -->
<text transform="scale(.82 1)" x="18.300 76.800 120.700 179.300 214.600 228 270.700" y="75" style="font-family:'Liberation Sans',sans-serif;font-size:61px;fill:#0cf5c8;stroke:#0cf5c8;stroke-width:2;stroke-linejoin:round">MCUclub</text>
</svg>
</body></html>
